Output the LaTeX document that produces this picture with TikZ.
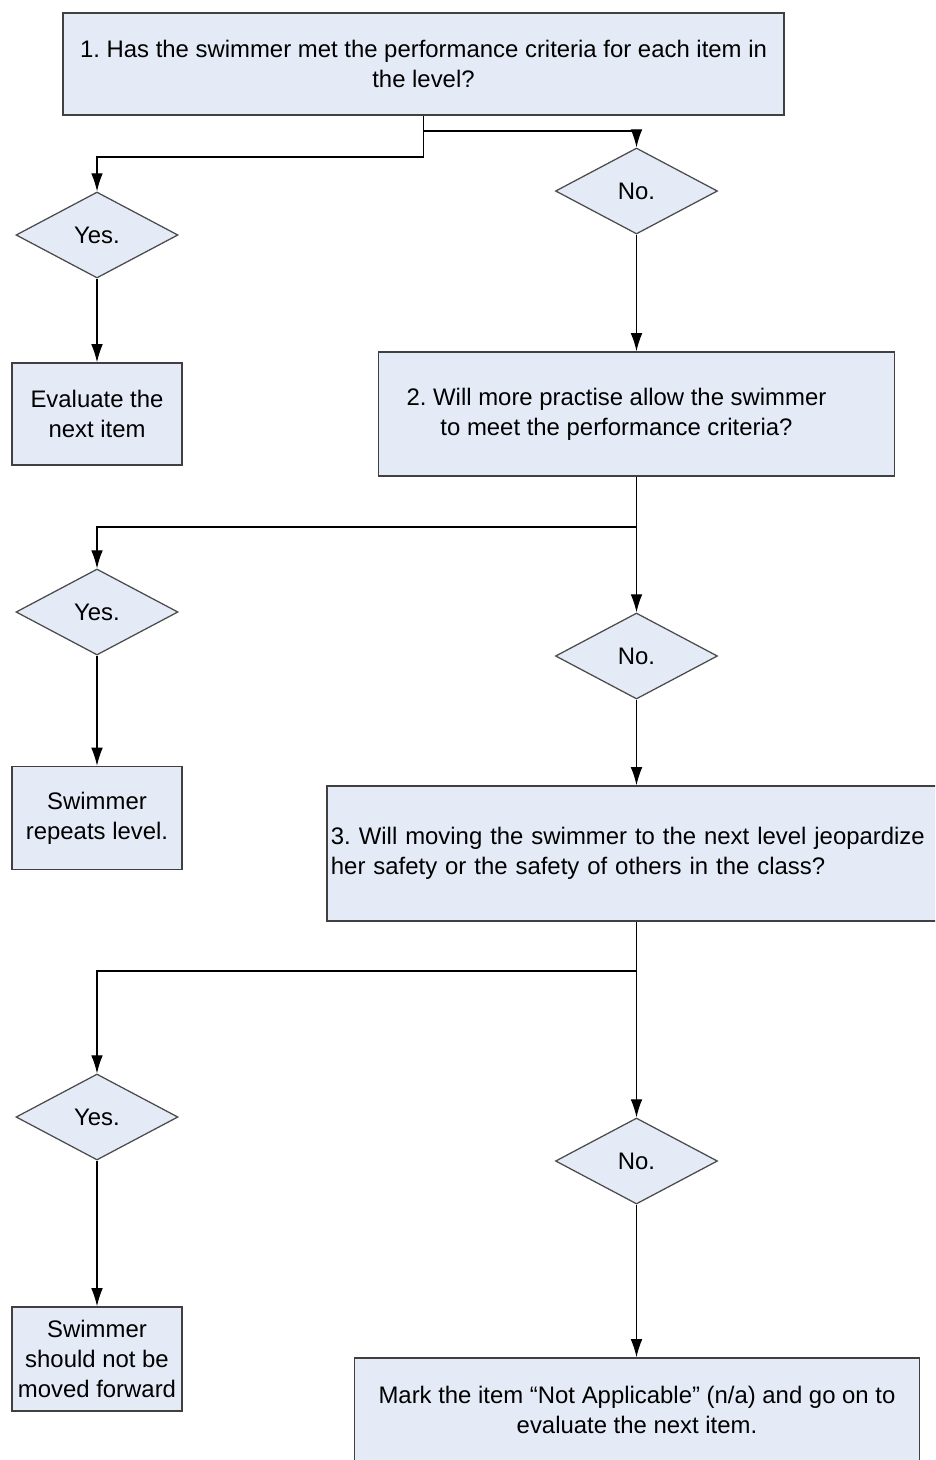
\documentclass[tikz,border=0pt]{standalone}
\usepackage{fontspec}
\setmainfont{Liberation Sans}
\frenchspacing
\usetikzlibrary{shapes.geometric, arrows.meta}
\definecolor{boxfill}{RGB}{228,235,247}
\tikzstyle{process} = [rectangle, text centered, align=center, draw=black!75, line width=1.1pt, fill=boxfill]
\tikzstyle{decision} = [diamond, aspect=1.88, minimum width=4.05cm, minimum height=2.15cm, inner sep=0pt, text centered, draw=black!70, line width=0.9pt, fill=boxfill]
\tikzstyle{arrow} = [line width=0.8pt,-{Latex[length=4.5mm,width=2.9mm]}]
\tikzstyle{line} = [line width=0.8pt]

\begin{document}
\begin{tikzpicture}[x=0.025cm, y=-0.025cm, every node/.style={font=\fontsize{17}{21.3}\selectfont}]
                \useasboundingbox (0,0) rectangle (935,1460);
                \clip (0,0) rectangle (935,1460);
                % first question
                \node (q1) [process, minimum width=18.025cm, minimum height=2.55cm] at (423.5,64) {1. Has the swimmer met the performance criteria for each item in\\the level?};
                \node (yes1) [decision] at (97,235) {Yes.};
                \node (no1) [decision] at (636.5,191) {No.};
                \node (eval) [process, minimum width=4.25cm, minimum height=2.55cm] at (97,414) {Evaluate the\\next item};
                % second question
                \node (q2) [process, minimum width=12.9cm, minimum height=3.1cm] at (636.5,414) {2. Will more practise allow the swimmer\hspace*{1cm}\\to meet the performance criteria?\hspace*{1cm}};
                \node (yes2) [decision] at (97,612) {Yes.};
                \node (no2) [decision] at (636.5,656) {No.};
                \node (repeat) [process, minimum width=4.25cm, minimum height=2.575cm] at (97,818) {Swimmer\\repeats level.};
                % third question
                \node (q3) [process, align=left, text width=15.25cm, inner xsep=0.1cm, minimum height=3.375cm] at (636,853.5) {3. Will moving the swimmer to the next level jeopardize\\her safety or the safety of others in the class?};
                \node (yes3) [decision] at (97,1117) {Yes.};
                \node (no3) [decision] at (636.5,1161) {No.};
                \node (notmove) [process, minimum width=4.25cm, minimum height=2.6cm] at (97,1359) {Swimmer\\should not be\\moved forward};
                \node (mark) [process, minimum width=14.125cm, minimum height=2.6cm] at (637,1410) {Mark the item “Not Applicable” (n/a) and go on to\\evaluate the next item.};
                \coordinate (j1a) at (423.5,131);
                \coordinate (j1b) at (423.5,157);
                \coordinate (j2) at (636.5,527);
                \coordinate (j3) at (636.5,971);

                \draw [line] (q1.south) -- (j1b);
                \draw [arrow] (j1a) -| (no1.north);
                \draw [arrow] (j1b) -| (yes1.north);
                \draw [arrow] (yes1) -- (eval);
                \draw [arrow] (no1) -- (q2);
                \draw [arrow] (q2.south) -- (no2.north);
                \draw [arrow] (j2) -| (yes2.north);
                \draw [arrow] (yes2) -- (repeat);
                \draw [arrow] (no2) -- (no2 |- q3.north);
                \draw [arrow] (q3.south -| j3) -- (no3.north);
                \draw [arrow] (j3) -| (yes3.north);
                \draw [arrow] (yes3) -- (notmove);
                \draw [arrow] (no3) -- (no3 |- mark.north);
            \end{tikzpicture}
\end{document}
